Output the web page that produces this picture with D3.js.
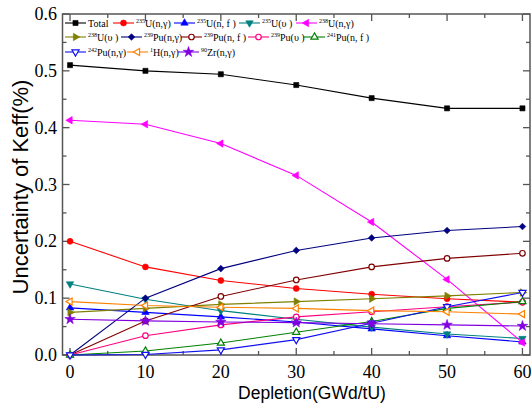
<!DOCTYPE html>
<html>
<head>
<meta charset="utf-8">
<script src="https://cdn.jsdelivr.net/npm/d3@7/dist/d3.min.js"></script>
<style>
  html, body { margin: 0; padding: 0; background: #fff; }
  svg { display: block; }
</style>
</head>
<body>
<svg id="chart" width="532" height="416"></svg>
<script>
// Burnup steps (GWd/tU)
const depletion = [0, 10, 20, 30, 40, 50, 60];

// Uncertainty contributions to Keff (%), per nuclide / reaction
const total      = [0.510, 0.500, 0.494, 0.475, 0.452, 0.434, 0.434];
const u235ng     = [0.200, 0.155, 0.131, 0.117, 0.107, 0.099, 0.093];
const u235nf     = [0.083, 0.075, 0.067, 0.058, 0.046, 0.034, 0.023];
const u235nu     = [0.125, 0.098, 0.078, 0.063, 0.049, 0.037, 0.029];
const u238ng     = [0.413, 0.406, 0.372, 0.316, 0.234, 0.133, 0.022];
const u238nu     = [0.075, 0.082, 0.089, 0.094, 0.099, 0.104, 0.110];
const pu239ng    = [0.000, 0.100, 0.152, 0.184, 0.206, 0.219, 0.226];
const pu239nf    = [0.000, 0.060, 0.103, 0.132, 0.155, 0.170, 0.179];
const pu239nu    = [0.000, 0.034, 0.053, 0.067, 0.076, 0.085, 0.093];
const pu241nf    = [0.000, 0.007, 0.021, 0.040, 0.059, 0.082, 0.094];
const pu242ng    = [0.000, 0.001, 0.009, 0.027, 0.056, 0.085, 0.110];
const h1ng       = [0.094, 0.087, 0.084, 0.082, 0.078, 0.076, 0.072];
const zr90ng     = [0.063, 0.060, 0.058, 0.057, 0.055, 0.053, 0.051];

// Legend labels: [mass number superscript, rest of the label]
const labels = [
  ["", "Total"], ["235", "U(n,γ)"], ["235", "U(n, f )"], ["235", "U(υ )"], ["238", "U(n,γ)"],
  ["238", "U(υ )"], ["239", "Pu(n,γ)"], ["239", "Pu(n, f )"], ["239", "Pu(υ )"], ["241", "Pu(n, f )"],
  ["242", "Pu(n,γ)"], ["1", "H(n,γ)"], ["90", "Zr(n,γ)"]
];

const xTicks = [0, 10, 20, 30, 40, 50, 60];
const yTicks = [0.0, 0.1, 0.2, 0.3, 0.4, 0.5, 0.6];
const yTickLabels = ["0.0", "0.1", "0.2", "0.3", "0.4", "0.5", "0.6"];

const seriesValues = [total, u235ng, u235nf, u235nu, u238ng, u238nu, pu239ng,
                      pu239nf, pu239nu, pu241nf, pu242ng, h1ng, zr90ng];

// Style per series: colour, symbol, rotation, open/filled
const styles = [
  { c: "#000000", s: d3.symbolSquare,   r: 0,   open: false, size: 26 },
  { c: "#ff0000", s: d3.symbolCircle,   r: 0,   open: false, size: 28 },
  { c: "#0000ff", s: d3.symbolTriangle, r: 0,   open: false, size: 24 },
  { c: "#008080", s: d3.symbolTriangle, r: 180, open: false, size: 24 },
  { c: "#ff00ff", s: d3.symbolTriangle, r: -90, open: false, size: 24 },
  { c: "#808000", s: d3.symbolTriangle, r: 90,  open: false, size: 24 },
  { c: "#000080", s: d3.symbolSquare,   r: 45,  open: false, size: 22 },
  { c: "#800000", s: d3.symbolCircle,   r: 0,   open: true,  size: 24 },
  { c: "#ff0080", s: d3.symbolCircle,   r: 0,   open: true,  size: 24 },
  { c: "#008000", s: d3.symbolTriangle, r: 0,   open: true,  size: 22 },
  { c: "#1010f0", s: d3.symbolTriangle, r: 180, open: true,  size: 22 },
  { c: "#ff8000", s: d3.symbolTriangle, r: -90, open: true,  size: 22 },
  { c: "#8000e0", s: d3.symbolStar,     r: 0,   open: false, size: 34 }
];

const svg = d3.select("#chart");
const serif = "'Liberation Serif', 'Times New Roman', serif";
const sans = "'Liberation Sans', Arial, sans-serif";

const x = d3.scaleLinear().domain([-1, 61]).range([62.5, 530]);
const y = d3.scaleLinear().domain([0, 0.6]).range([355, 14]);

const frameColor = "#555";

// Frame
svg.append("rect")
  .attr("x", x.range()[0]).attr("y", y.range()[1])
  .attr("width", x.range()[1] - x.range()[0])
  .attr("height", y.range()[0] - y.range()[1])
  .attr("fill", "none").attr("stroke", frameColor).attr("stroke-width", 1.5);

// Inward ticks on all four sides
const xMinor = d3.range(5, 60, 10);
const yMinor = d3.range(0.05, 0.6, 0.1);
const tickG = svg.append("g").attr("stroke", frameColor).attr("stroke-width", 1.3);
function xTick(v, len) {
  tickG.append("line").attr("x1", x(v)).attr("x2", x(v)).attr("y1", y(0)).attr("y2", y(0) - len);
  tickG.append("line").attr("x1", x(v)).attr("x2", x(v)).attr("y1", y(0.6)).attr("y2", y(0.6) + len);
}
function yTick(v, len) {
  tickG.append("line").attr("x1", x(-1)).attr("x2", x(-1) + len).attr("y1", y(v)).attr("y2", y(v));
  tickG.append("line").attr("x1", x(61)).attr("x2", x(61) - len).attr("y1", y(v)).attr("y2", y(v));
}
xTicks.forEach(v => xTick(v, 7));
xMinor.forEach(v => xTick(v, 4));
yTicks.forEach(v => yTick(v, 7));
yMinor.forEach(v => yTick(v, 4));

// Tick labels
svg.append("g").selectAll("text").data(xTicks).join("text")
  .attr("x", d => x(d)).attr("y", 378)
  .attr("text-anchor", "middle")
  .attr("font-family", serif).attr("font-size", 18).attr("fill", "#000")
  .text(d => d);

svg.append("g").selectAll("text").data(yTicks).join("text")
  .attr("x", 57).attr("y", d => y(d) + 6)
  .attr("text-anchor", "end")
  .attr("font-family", serif).attr("font-size", 18).attr("fill", "#000")
  .text((d, i) => yTickLabels[i]);

// Axis titles
svg.append("text")
  .attr("x", 312).attr("y", 399)
  .attr("text-anchor", "middle")
  .attr("font-family", sans).attr("font-size", 17.5).attr("fill", "#000")
  .text("Depletion(GWd/tU)");

svg.append("text")
  .attr("transform", "translate(28,187) rotate(-90)")
  .attr("text-anchor", "middle")
  .attr("font-family", sans).attr("font-size", 22).attr("fill", "#000")
  .text("Uncertainty of Keff(%)");

// Series lines and markers
const line = d3.line().x((d, i) => x(depletion[i])).y(d => y(d));

function marker(g, st, cx, cy) {
  g.append("path")
    .attr("d", d3.symbol().type(st.s).size(st.size)())
    .attr("transform", `translate(${cx},${cy}) rotate(${st.r})`)
    .attr("fill", st.open ? "#fff" : st.c)
    .attr("stroke", st.c)
    .attr("stroke-width", st.open ? 1.2 : 0.6);
}

const plotG = svg.append("g");
seriesValues.forEach((vals, k) => {
  const st = styles[k];
  const g = plotG.append("g");
  g.append("path").attr("d", line(vals))
    .attr("fill", "none").attr("stroke", st.c).attr("stroke-width", 1.1);
  vals.forEach((v, i) => marker(g, st, x(depletion[i]), y(v)));
});

// Legend: three rows, each entry = short line with its symbol, then label
const rows = [[0, 1, 2, 3, 4], [5, 6, 7, 8, 9], [10, 11, 12]];
const rowY = [23, 37, 52];
const rowX = [[65, 113, 174, 239, 296], [65, 121, 181, 248, 304], [65, 127, 178]];
const legG = svg.append("g");
rows.forEach((row, ri) => {
  const cy = rowY[ri];
  row.forEach((k, j) => {
    const st = styles[k];
    const cx = rowX[ri][j];
    legG.append("line").attr("x1", cx).attr("x2", cx + 21)
      .attr("y1", cy).attr("y2", cy)
      .attr("stroke", st.c).attr("stroke-width", 1.1);
    marker(legG, st, cx + 10.5, cy);
    const t = legG.append("text")
      .attr("x", cx + 23).attr("y", cy + 3.5)
      .attr("font-family", serif).attr("font-size", 10).attr("fill", "#000")
      .attr("xml:space", "preserve")
      .style("white-space", "pre");
    const [sup, rest] = labels[k];
    if (sup) {
      t.append("tspan").attr("font-size", 6).attr("dy", -4).text(sup);
      t.append("tspan").attr("dy", 4).text(rest);
    } else {
      t.text(rest);
    }
  });
});
</script>
</body>
</html>
